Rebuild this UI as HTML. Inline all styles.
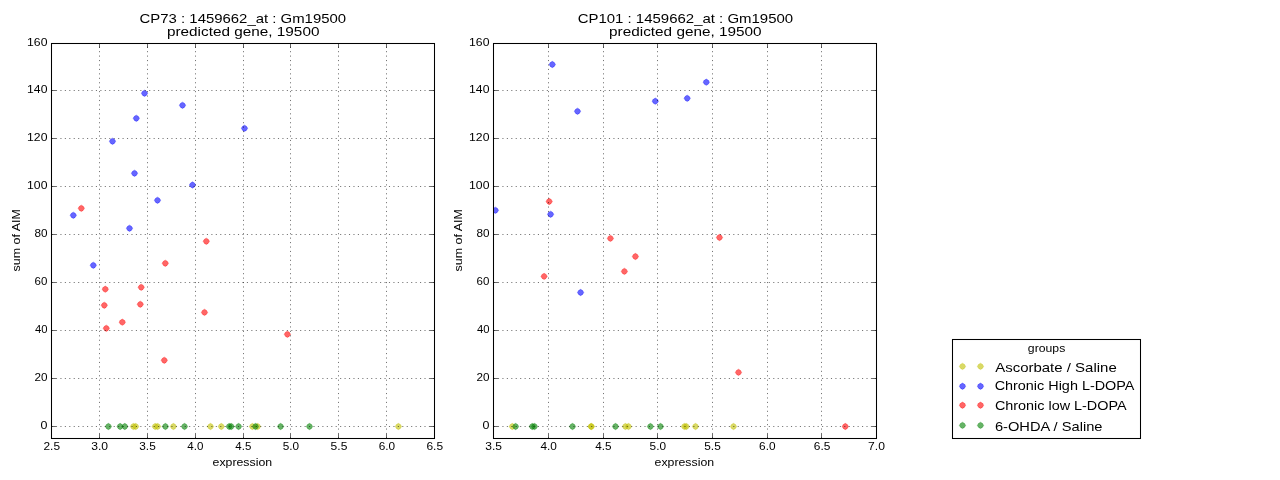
<!DOCTYPE html><html><head><meta charset="utf-8"><style>html,body{margin:0;padding:0;background:#fff;}svg{display:block;will-change:transform;}</style></head><body><svg width="1280" height="480" viewBox="0 0 1280 480">
<rect width="1280" height="480" fill="#fff"/>
<defs><path id="mk" d="M0 -3.15L1.95 -1.95L3.15 0L1.95 1.95L0 3.15L-1.95 1.95L-3.15 0L-1.95 -1.95Z" stroke-linejoin="round"/></defs>
<clipPath id="c1"><rect x="51.5" y="43.5" width="383.0" height="395.0"/></clipPath>
<g clip-path="url(#c1)">
<use href="#mk" x="133.4" y="426.5" fill="rgba(191,191,0,0.6)" stroke="rgba(191,191,0,0.6)" stroke-width="0.55"/>
<use href="#mk" x="135.7" y="426.5" fill="rgba(191,191,0,0.6)" stroke="rgba(191,191,0,0.6)" stroke-width="0.55"/>
<use href="#mk" x="155.2" y="426.5" fill="rgba(191,191,0,0.6)" stroke="rgba(191,191,0,0.6)" stroke-width="0.55"/>
<use href="#mk" x="157.6" y="426.5" fill="rgba(191,191,0,0.6)" stroke="rgba(191,191,0,0.6)" stroke-width="0.55"/>
<use href="#mk" x="173.4" y="426.5" fill="rgba(191,191,0,0.6)" stroke="rgba(191,191,0,0.6)" stroke-width="0.55"/>
<use href="#mk" x="210.5" y="426.5" fill="rgba(191,191,0,0.6)" stroke="rgba(191,191,0,0.6)" stroke-width="0.55"/>
<use href="#mk" x="221.3" y="426.5" fill="rgba(191,191,0,0.6)" stroke="rgba(191,191,0,0.6)" stroke-width="0.55"/>
<use href="#mk" x="252.4" y="426.5" fill="rgba(191,191,0,0.6)" stroke="rgba(191,191,0,0.6)" stroke-width="0.55"/>
<use href="#mk" x="257.6" y="426.5" fill="rgba(191,191,0,0.6)" stroke="rgba(191,191,0,0.6)" stroke-width="0.55"/>
<use href="#mk" x="398.4" y="426.5" fill="rgba(191,191,0,0.6)" stroke="rgba(191,191,0,0.6)" stroke-width="0.55"/>
<use href="#mk" x="112.5" y="141.3" fill="rgba(0,0,255,0.6)" stroke="rgba(0,0,255,0.6)" stroke-width="0.55"/>
<use href="#mk" x="136.3" y="118.3" fill="rgba(0,0,255,0.6)" stroke="rgba(0,0,255,0.6)" stroke-width="0.55"/>
<use href="#mk" x="144.5" y="93.3" fill="rgba(0,0,255,0.6)" stroke="rgba(0,0,255,0.6)" stroke-width="0.55"/>
<use href="#mk" x="182.5" y="105.3" fill="rgba(0,0,255,0.6)" stroke="rgba(0,0,255,0.6)" stroke-width="0.55"/>
<use href="#mk" x="134.5" y="173.3" fill="rgba(0,0,255,0.6)" stroke="rgba(0,0,255,0.6)" stroke-width="0.55"/>
<use href="#mk" x="192.5" y="185" fill="rgba(0,0,255,0.6)" stroke="rgba(0,0,255,0.6)" stroke-width="0.55"/>
<use href="#mk" x="157.5" y="200.3" fill="rgba(0,0,255,0.6)" stroke="rgba(0,0,255,0.6)" stroke-width="0.55"/>
<use href="#mk" x="73.3" y="215.3" fill="rgba(0,0,255,0.6)" stroke="rgba(0,0,255,0.6)" stroke-width="0.55"/>
<use href="#mk" x="129.5" y="228.3" fill="rgba(0,0,255,0.6)" stroke="rgba(0,0,255,0.6)" stroke-width="0.55"/>
<use href="#mk" x="93.3" y="265.3" fill="rgba(0,0,255,0.6)" stroke="rgba(0,0,255,0.6)" stroke-width="0.55"/>
<use href="#mk" x="244.5" y="128.3" fill="rgba(0,0,255,0.6)" stroke="rgba(0,0,255,0.6)" stroke-width="0.55"/>
<use href="#mk" x="81.3" y="208.3" fill="rgba(255,0,0,0.6)" stroke="rgba(255,0,0,0.6)" stroke-width="0.55"/>
<use href="#mk" x="206.3" y="241.3" fill="rgba(255,0,0,0.6)" stroke="rgba(255,0,0,0.6)" stroke-width="0.55"/>
<use href="#mk" x="165.3" y="263.3" fill="rgba(255,0,0,0.6)" stroke="rgba(255,0,0,0.6)" stroke-width="0.55"/>
<use href="#mk" x="105.3" y="289.2" fill="rgba(255,0,0,0.6)" stroke="rgba(255,0,0,0.6)" stroke-width="0.55"/>
<use href="#mk" x="141.2" y="287.3" fill="rgba(255,0,0,0.6)" stroke="rgba(255,0,0,0.6)" stroke-width="0.55"/>
<use href="#mk" x="104.3" y="305.3" fill="rgba(255,0,0,0.6)" stroke="rgba(255,0,0,0.6)" stroke-width="0.55"/>
<use href="#mk" x="140.3" y="304.3" fill="rgba(255,0,0,0.6)" stroke="rgba(255,0,0,0.6)" stroke-width="0.55"/>
<use href="#mk" x="204.5" y="312.4" fill="rgba(255,0,0,0.6)" stroke="rgba(255,0,0,0.6)" stroke-width="0.55"/>
<use href="#mk" x="122.3" y="322.2" fill="rgba(255,0,0,0.6)" stroke="rgba(255,0,0,0.6)" stroke-width="0.55"/>
<use href="#mk" x="106.3" y="328.3" fill="rgba(255,0,0,0.6)" stroke="rgba(255,0,0,0.6)" stroke-width="0.55"/>
<use href="#mk" x="164.3" y="360.3" fill="rgba(255,0,0,0.6)" stroke="rgba(255,0,0,0.6)" stroke-width="0.55"/>
<use href="#mk" x="287.4" y="334.3" fill="rgba(255,0,0,0.6)" stroke="rgba(255,0,0,0.6)" stroke-width="0.55"/>
<use href="#mk" x="108.4" y="426.5" fill="rgba(0,128,0,0.6)" stroke="rgba(0,128,0,0.6)" stroke-width="0.55"/>
<use href="#mk" x="120.1" y="426.5" fill="rgba(0,128,0,0.6)" stroke="rgba(0,128,0,0.6)" stroke-width="0.55"/>
<use href="#mk" x="124.8" y="426.5" fill="rgba(0,128,0,0.6)" stroke="rgba(0,128,0,0.6)" stroke-width="0.55"/>
<use href="#mk" x="165.4" y="426.5" fill="rgba(0,128,0,0.6)" stroke="rgba(0,128,0,0.6)" stroke-width="0.55"/>
<use href="#mk" x="184.5" y="426.5" fill="rgba(0,128,0,0.6)" stroke="rgba(0,128,0,0.6)" stroke-width="0.55"/>
<use href="#mk" x="229.2" y="426.5" fill="rgba(0,128,0,0.6)" stroke="rgba(0,128,0,0.6)" stroke-width="0.55"/>
<use href="#mk" x="231.2" y="426.5" fill="rgba(0,128,0,0.6)" stroke="rgba(0,128,0,0.6)" stroke-width="0.55"/>
<use href="#mk" x="238.6" y="426.5" fill="rgba(0,128,0,0.6)" stroke="rgba(0,128,0,0.6)" stroke-width="0.55"/>
<use href="#mk" x="255.5" y="426.5" fill="rgba(0,128,0,0.6)" stroke="rgba(0,128,0,0.6)" stroke-width="0.55"/>
<use href="#mk" x="280.6" y="426.5" fill="rgba(0,128,0,0.6)" stroke="rgba(0,128,0,0.6)" stroke-width="0.55"/>
<use href="#mk" x="309.5" y="426.5" fill="rgba(0,128,0,0.6)" stroke="rgba(0,128,0,0.6)" stroke-width="0.55"/>
</g>
<path d="M99.5 438.5V43.5M147.5 438.5V43.5M195.5 438.5V43.5M243.5 438.5V43.5M290.5 438.5V43.5M338.5 438.5V43.5M386.5 438.5V43.5M51.5 426.5H434.5M51.5 378.5H434.5M51.5 330.5H434.5M51.5 282.5H434.5M51.5 234.5H434.5M51.5 186.5H434.5M51.5 138.5H434.5M51.5 90.5H434.5" stroke="#000" stroke-width="0.55" stroke-dasharray="1.11 3.33" fill="none"/>
<path d="M51.5 438.5v-4.44M51.5 43.5v4.44M99.5 438.5v-4.44M99.5 43.5v4.44M147.5 438.5v-4.44M147.5 43.5v4.44M195.5 438.5v-4.44M195.5 43.5v4.44M243.5 438.5v-4.44M243.5 43.5v4.44M290.5 438.5v-4.44M290.5 43.5v4.44M338.5 438.5v-4.44M338.5 43.5v4.44M386.5 438.5v-4.44M386.5 43.5v4.44M434.5 438.5v-4.44M434.5 43.5v4.44M51.5 426.5h4.44M434.5 426.5h-4.44M51.5 378.5h4.44M434.5 378.5h-4.44M51.5 330.5h4.44M434.5 330.5h-4.44M51.5 282.5h4.44M434.5 282.5h-4.44M51.5 234.5h4.44M434.5 234.5h-4.44M51.5 186.5h4.44M434.5 186.5h-4.44M51.5 138.5h4.44M434.5 138.5h-4.44M51.5 90.5h4.44M434.5 90.5h-4.44M51.5 43.5h4.44M434.5 43.5h-4.44" stroke="#000" stroke-width="0.6" fill="none"/>
<rect x="51.5" y="43.5" width="383.0" height="395.0" fill="none" stroke="#000" stroke-width="1.05"/>
<clipPath id="c2"><rect x="493.5" y="43.5" width="383.0" height="395.0"/></clipPath>
<g clip-path="url(#c2)">
<use href="#mk" x="512.3" y="426.5" fill="rgba(191,191,0,0.6)" stroke="rgba(191,191,0,0.6)" stroke-width="0.55"/>
<use href="#mk" x="591" y="426.5" fill="rgba(191,191,0,0.6)" stroke="rgba(191,191,0,0.6)" stroke-width="0.55"/>
<use href="#mk" x="591.5" y="426.5" fill="rgba(191,191,0,0.6)" stroke="rgba(191,191,0,0.6)" stroke-width="0.55"/>
<use href="#mk" x="625.4" y="426.5" fill="rgba(191,191,0,0.6)" stroke="rgba(191,191,0,0.6)" stroke-width="0.55"/>
<use href="#mk" x="628.5" y="426.5" fill="rgba(191,191,0,0.6)" stroke="rgba(191,191,0,0.6)" stroke-width="0.55"/>
<use href="#mk" x="684.4" y="426.5" fill="rgba(191,191,0,0.6)" stroke="rgba(191,191,0,0.6)" stroke-width="0.55"/>
<use href="#mk" x="686.3" y="426.5" fill="rgba(191,191,0,0.6)" stroke="rgba(191,191,0,0.6)" stroke-width="0.55"/>
<use href="#mk" x="695.5" y="426.5" fill="rgba(191,191,0,0.6)" stroke="rgba(191,191,0,0.6)" stroke-width="0.55"/>
<use href="#mk" x="733.5" y="426.5" fill="rgba(191,191,0,0.6)" stroke="rgba(191,191,0,0.6)" stroke-width="0.55"/>
<use href="#mk" x="552.3" y="64.5" fill="rgba(0,0,255,0.6)" stroke="rgba(0,0,255,0.6)" stroke-width="0.55"/>
<use href="#mk" x="577.5" y="111.3" fill="rgba(0,0,255,0.6)" stroke="rgba(0,0,255,0.6)" stroke-width="0.55"/>
<use href="#mk" x="655.3" y="101.2" fill="rgba(0,0,255,0.6)" stroke="rgba(0,0,255,0.6)" stroke-width="0.55"/>
<use href="#mk" x="687.2" y="98.3" fill="rgba(0,0,255,0.6)" stroke="rgba(0,0,255,0.6)" stroke-width="0.55"/>
<use href="#mk" x="706.3" y="82.2" fill="rgba(0,0,255,0.6)" stroke="rgba(0,0,255,0.6)" stroke-width="0.55"/>
<use href="#mk" x="495.4" y="210.3" fill="rgba(0,0,255,0.6)" stroke="rgba(0,0,255,0.6)" stroke-width="0.55"/>
<use href="#mk" x="550.6" y="214.3" fill="rgba(0,0,255,0.6)" stroke="rgba(0,0,255,0.6)" stroke-width="0.55"/>
<use href="#mk" x="580.6" y="292.5" fill="rgba(0,0,255,0.6)" stroke="rgba(0,0,255,0.6)" stroke-width="0.55"/>
<use href="#mk" x="549.2" y="201.5" fill="rgba(255,0,0,0.6)" stroke="rgba(255,0,0,0.6)" stroke-width="0.55"/>
<use href="#mk" x="610.4" y="238.4" fill="rgba(255,0,0,0.6)" stroke="rgba(255,0,0,0.6)" stroke-width="0.55"/>
<use href="#mk" x="635.4" y="256.5" fill="rgba(255,0,0,0.6)" stroke="rgba(255,0,0,0.6)" stroke-width="0.55"/>
<use href="#mk" x="624.4" y="271.4" fill="rgba(255,0,0,0.6)" stroke="rgba(255,0,0,0.6)" stroke-width="0.55"/>
<use href="#mk" x="544.1" y="276.4" fill="rgba(255,0,0,0.6)" stroke="rgba(255,0,0,0.6)" stroke-width="0.55"/>
<use href="#mk" x="719.5" y="237.5" fill="rgba(255,0,0,0.6)" stroke="rgba(255,0,0,0.6)" stroke-width="0.55"/>
<use href="#mk" x="738.5" y="372.4" fill="rgba(255,0,0,0.6)" stroke="rgba(255,0,0,0.6)" stroke-width="0.55"/>
<use href="#mk" x="845.3" y="426.5" fill="rgba(255,0,0,0.6)" stroke="rgba(255,0,0,0.6)" stroke-width="0.55"/>
<use href="#mk" x="515.6" y="426.5" fill="rgba(0,128,0,0.6)" stroke="rgba(0,128,0,0.6)" stroke-width="0.55"/>
<use href="#mk" x="532.3" y="426.5" fill="rgba(0,128,0,0.6)" stroke="rgba(0,128,0,0.6)" stroke-width="0.55"/>
<use href="#mk" x="534.5" y="426.5" fill="rgba(0,128,0,0.6)" stroke="rgba(0,128,0,0.6)" stroke-width="0.55"/>
<use href="#mk" x="572.5" y="426.5" fill="rgba(0,128,0,0.6)" stroke="rgba(0,128,0,0.6)" stroke-width="0.55"/>
<use href="#mk" x="615.5" y="426.5" fill="rgba(0,128,0,0.6)" stroke="rgba(0,128,0,0.6)" stroke-width="0.55"/>
<use href="#mk" x="650.4" y="426.5" fill="rgba(0,128,0,0.6)" stroke="rgba(0,128,0,0.6)" stroke-width="0.55"/>
<use href="#mk" x="660.5" y="426.5" fill="rgba(0,128,0,0.6)" stroke="rgba(0,128,0,0.6)" stroke-width="0.55"/>
</g>
<path d="M548.5 438.5V43.5M603.5 438.5V43.5M657.5 438.5V43.5M712.5 438.5V43.5M767.5 438.5V43.5M821.5 438.5V43.5M493.5 426.5H876.5M493.5 378.5H876.5M493.5 330.5H876.5M493.5 282.5H876.5M493.5 234.5H876.5M493.5 186.5H876.5M493.5 138.5H876.5M493.5 90.5H876.5" stroke="#000" stroke-width="0.55" stroke-dasharray="1.11 3.33" fill="none"/>
<path d="M493.5 438.5v-4.44M493.5 43.5v4.44M548.5 438.5v-4.44M548.5 43.5v4.44M603.5 438.5v-4.44M603.5 43.5v4.44M657.5 438.5v-4.44M657.5 43.5v4.44M712.5 438.5v-4.44M712.5 43.5v4.44M767.5 438.5v-4.44M767.5 43.5v4.44M821.5 438.5v-4.44M821.5 43.5v4.44M876.5 438.5v-4.44M876.5 43.5v4.44M493.5 426.5h4.44M876.5 426.5h-4.44M493.5 378.5h4.44M876.5 378.5h-4.44M493.5 330.5h4.44M876.5 330.5h-4.44M493.5 282.5h4.44M876.5 282.5h-4.44M493.5 234.5h4.44M876.5 234.5h-4.44M493.5 186.5h4.44M876.5 186.5h-4.44M493.5 138.5h4.44M876.5 138.5h-4.44M493.5 90.5h4.44M876.5 90.5h-4.44M493.5 43.5h4.44M876.5 43.5h-4.44" stroke="#000" stroke-width="0.6" fill="none"/>
<rect x="493.5" y="43.5" width="383.0" height="395.0" fill="none" stroke="#000" stroke-width="1.05"/>
<rect x="952.5" y="339.5" width="188" height="99" fill="#fff" stroke="#000" stroke-width="1.05"/>
<use href="#mk" x="962.5" y="366.4" fill="rgba(191,191,0,0.6)" stroke="rgba(191,191,0,0.6)" stroke-width="0.55"/>
<use href="#mk" x="980.5" y="366.4" fill="rgba(191,191,0,0.6)" stroke="rgba(191,191,0,0.6)" stroke-width="0.55"/>
<use href="#mk" x="962.5" y="386.25" fill="rgba(0,0,255,0.6)" stroke="rgba(0,0,255,0.6)" stroke-width="0.55"/>
<use href="#mk" x="980.5" y="386.25" fill="rgba(0,0,255,0.6)" stroke="rgba(0,0,255,0.6)" stroke-width="0.55"/>
<use href="#mk" x="962.5" y="405.25" fill="rgba(255,0,0,0.6)" stroke="rgba(255,0,0,0.6)" stroke-width="0.55"/>
<use href="#mk" x="980.5" y="405.25" fill="rgba(255,0,0,0.6)" stroke="rgba(255,0,0,0.6)" stroke-width="0.55"/>
<use href="#mk" x="962.5" y="425.4" fill="rgba(0,128,0,0.6)" stroke="rgba(0,128,0,0.6)" stroke-width="0.55"/>
<use href="#mk" x="980.5" y="425.4" fill="rgba(0,128,0,0.6)" stroke="rgba(0,128,0,0.6)" stroke-width="0.55"/>
<text id="xt0_2.5" x="43.49" y="449.8" font-size="10.4" font-family="Liberation Sans, sans-serif" textLength="16.52" lengthAdjust="spacingAndGlyphs">2.5</text>
<text id="xt0_3.0" x="91.25" y="449.8" font-size="10.4" font-family="Liberation Sans, sans-serif" textLength="16.85" lengthAdjust="spacingAndGlyphs">3.0</text>
<text id="xt0_3.5" x="139.28" y="449.8" font-size="10.4" font-family="Liberation Sans, sans-serif" textLength="16.46" lengthAdjust="spacingAndGlyphs">3.5</text>
<text id="xt0_4.0" x="187.38" y="449.8" font-size="10.4" font-family="Liberation Sans, sans-serif" textLength="16.11" lengthAdjust="spacingAndGlyphs">4.0</text>
<text id="xt0_4.5" x="235.37" y="449.8" font-size="10.4" font-family="Liberation Sans, sans-serif" textLength="15.97" lengthAdjust="spacingAndGlyphs">4.5</text>
<text id="xt0_5.0" x="282.82" y="449.8" font-size="10.4" font-family="Liberation Sans, sans-serif" textLength="16.36" lengthAdjust="spacingAndGlyphs">5.0</text>
<text id="xt0_5.5" x="330.63" y="449.8" font-size="10.4" font-family="Liberation Sans, sans-serif" textLength="16.72" lengthAdjust="spacingAndGlyphs">5.5</text>
<text id="xt0_6.0" x="378.66" y="449.8" font-size="10.4" font-family="Liberation Sans, sans-serif" textLength="16.41" lengthAdjust="spacingAndGlyphs">6.0</text>
<text id="xt0_6.5" x="426.44" y="449.8" font-size="10.4" font-family="Liberation Sans, sans-serif" textLength="16.62" lengthAdjust="spacingAndGlyphs">6.5</text>
<text id="yt0_0" x="40.47" y="428.8" font-size="10.4" font-family="Liberation Sans, sans-serif" textLength="6.94" lengthAdjust="spacingAndGlyphs">0</text>
<text id="yt0_20" x="34.50" y="380.8" font-size="10.4" font-family="Liberation Sans, sans-serif" textLength="13.01" lengthAdjust="spacingAndGlyphs">20</text>
<text id="yt0_40" x="34.96" y="332.8" font-size="10.4" font-family="Liberation Sans, sans-serif" textLength="12.56" lengthAdjust="spacingAndGlyphs">40</text>
<text id="yt0_60" x="34.55" y="284.8" font-size="10.4" font-family="Liberation Sans, sans-serif" textLength="12.81" lengthAdjust="spacingAndGlyphs">60</text>
<text id="yt0_80" x="34.54" y="236.8" font-size="10.4" font-family="Liberation Sans, sans-serif" textLength="13.02" lengthAdjust="spacingAndGlyphs">80</text>
<text id="yt0_100" x="27.09" y="188.8" font-size="10.4" font-family="Liberation Sans, sans-serif" textLength="20.38" lengthAdjust="spacingAndGlyphs">100</text>
<text id="yt0_120" x="27.09" y="140.8" font-size="10.4" font-family="Liberation Sans, sans-serif" textLength="20.38" lengthAdjust="spacingAndGlyphs">120</text>
<text id="yt0_140" x="27.09" y="92.8" font-size="10.4" font-family="Liberation Sans, sans-serif" textLength="20.38" lengthAdjust="spacingAndGlyphs">140</text>
<text id="yt0_160" x="27.09" y="45.8" font-size="10.4" font-family="Liberation Sans, sans-serif" textLength="20.38" lengthAdjust="spacingAndGlyphs">160</text>
<text id="xt1_3.5" x="485.32" y="449.8" font-size="10.4" font-family="Liberation Sans, sans-serif" textLength="16.74" lengthAdjust="spacingAndGlyphs">3.5</text>
<text id="xt1_4.0" x="540.43" y="449.8" font-size="10.4" font-family="Liberation Sans, sans-serif" textLength="16.44" lengthAdjust="spacingAndGlyphs">4.0</text>
<text id="xt1_4.5" x="595.21" y="449.8" font-size="10.4" font-family="Liberation Sans, sans-serif" textLength="16.27" lengthAdjust="spacingAndGlyphs">4.5</text>
<text id="xt1_5.0" x="649.60" y="449.8" font-size="10.4" font-family="Liberation Sans, sans-serif" textLength="16.40" lengthAdjust="spacingAndGlyphs">5.0</text>
<text id="xt1_5.5" x="704.27" y="449.8" font-size="10.4" font-family="Liberation Sans, sans-serif" textLength="16.47" lengthAdjust="spacingAndGlyphs">5.5</text>
<text id="xt1_6.0" x="759.13" y="449.8" font-size="10.4" font-family="Liberation Sans, sans-serif" textLength="16.46" lengthAdjust="spacingAndGlyphs">6.0</text>
<text id="xt1_6.5" x="813.78" y="449.8" font-size="10.4" font-family="Liberation Sans, sans-serif" textLength="16.55" lengthAdjust="spacingAndGlyphs">6.5</text>
<text id="xt1_7.0" x="868.08" y="449.8" font-size="10.4" font-family="Liberation Sans, sans-serif" textLength="16.86" lengthAdjust="spacingAndGlyphs">7.0</text>
<text id="yt1_0" x="482.47" y="428.8" font-size="10.4" font-family="Liberation Sans, sans-serif" textLength="6.94" lengthAdjust="spacingAndGlyphs">0</text>
<text id="yt1_20" x="476.50" y="380.8" font-size="10.4" font-family="Liberation Sans, sans-serif" textLength="13.01" lengthAdjust="spacingAndGlyphs">20</text>
<text id="yt1_40" x="476.96" y="332.8" font-size="10.4" font-family="Liberation Sans, sans-serif" textLength="12.56" lengthAdjust="spacingAndGlyphs">40</text>
<text id="yt1_60" x="476.55" y="284.8" font-size="10.4" font-family="Liberation Sans, sans-serif" textLength="12.81" lengthAdjust="spacingAndGlyphs">60</text>
<text id="yt1_80" x="476.54" y="236.8" font-size="10.4" font-family="Liberation Sans, sans-serif" textLength="13.02" lengthAdjust="spacingAndGlyphs">80</text>
<text id="yt1_100" x="469.09" y="188.8" font-size="10.4" font-family="Liberation Sans, sans-serif" textLength="20.38" lengthAdjust="spacingAndGlyphs">100</text>
<text id="yt1_120" x="469.09" y="140.8" font-size="10.4" font-family="Liberation Sans, sans-serif" textLength="20.38" lengthAdjust="spacingAndGlyphs">120</text>
<text id="yt1_140" x="469.09" y="92.8" font-size="10.4" font-family="Liberation Sans, sans-serif" textLength="20.38" lengthAdjust="spacingAndGlyphs">140</text>
<text id="yt1_160" x="469.09" y="45.8" font-size="10.4" font-family="Liberation Sans, sans-serif" textLength="20.38" lengthAdjust="spacingAndGlyphs">160</text>
<text id="tL1" x="139.60" y="22.8" font-size="12.6" font-family="Liberation Sans, sans-serif" textLength="206.47" lengthAdjust="spacingAndGlyphs">CP73 : 1459662_at : Gm19500</text>
<text id="tL2" x="166.98" y="36" font-size="12.6" font-family="Liberation Sans, sans-serif" textLength="152.45" lengthAdjust="spacingAndGlyphs">predicted gene, 19500</text>
<text id="tR1" x="577.65" y="22.8" font-size="12.6" font-family="Liberation Sans, sans-serif" textLength="215.50" lengthAdjust="spacingAndGlyphs">CP101 : 1459662_at : Gm19500</text>
<text id="tR2" x="609.06" y="36" font-size="12.6" font-family="Liberation Sans, sans-serif" textLength="152.61" lengthAdjust="spacingAndGlyphs">predicted gene, 19500</text>
<text id="xlL" x="212.58" y="465.75" font-size="11" font-family="Liberation Sans, sans-serif" textLength="59.54" lengthAdjust="spacingAndGlyphs">expression</text>
<text id="xlR" x="654.58" y="465.75" font-size="11" font-family="Liberation Sans, sans-serif" textLength="59.54" lengthAdjust="spacingAndGlyphs">expression</text>
<text id="ylL" transform="translate(19.7,270.8) rotate(-90)" x="-0.67" y="0" font-size="11" font-family="Liberation Sans, sans-serif" textLength="62.39" lengthAdjust="spacingAndGlyphs">sum of AIM</text>
<text id="ylR" transform="translate(461.7,270.8) rotate(-90)" x="-0.67" y="0" font-size="11" font-family="Liberation Sans, sans-serif" textLength="62.39" lengthAdjust="spacingAndGlyphs">sum of AIM</text>
<text id="lg0" x="1027.85" y="352" font-size="10.8" font-family="Liberation Sans, sans-serif" textLength="37.41" lengthAdjust="spacingAndGlyphs">groups</text>
<text id="lg1" x="995.20" y="371.8" font-size="12.6" font-family="Liberation Sans, sans-serif" textLength="121.55" lengthAdjust="spacingAndGlyphs">Ascorbate / Saline</text>
<text id="lg2" x="994.66" y="389.7" font-size="12.6" font-family="Liberation Sans, sans-serif" textLength="139.77" lengthAdjust="spacingAndGlyphs">Chronic High L-DOPA</text>
<text id="lg3" x="994.92" y="409.9" font-size="12.6" font-family="Liberation Sans, sans-serif" textLength="131.63" lengthAdjust="spacingAndGlyphs">Chronic low L-DOPA</text>
<text id="lg4" x="994.91" y="431" font-size="12.6" font-family="Liberation Sans, sans-serif" textLength="107.61" lengthAdjust="spacingAndGlyphs">6-OHDA / Saline</text>
</svg></body></html>
